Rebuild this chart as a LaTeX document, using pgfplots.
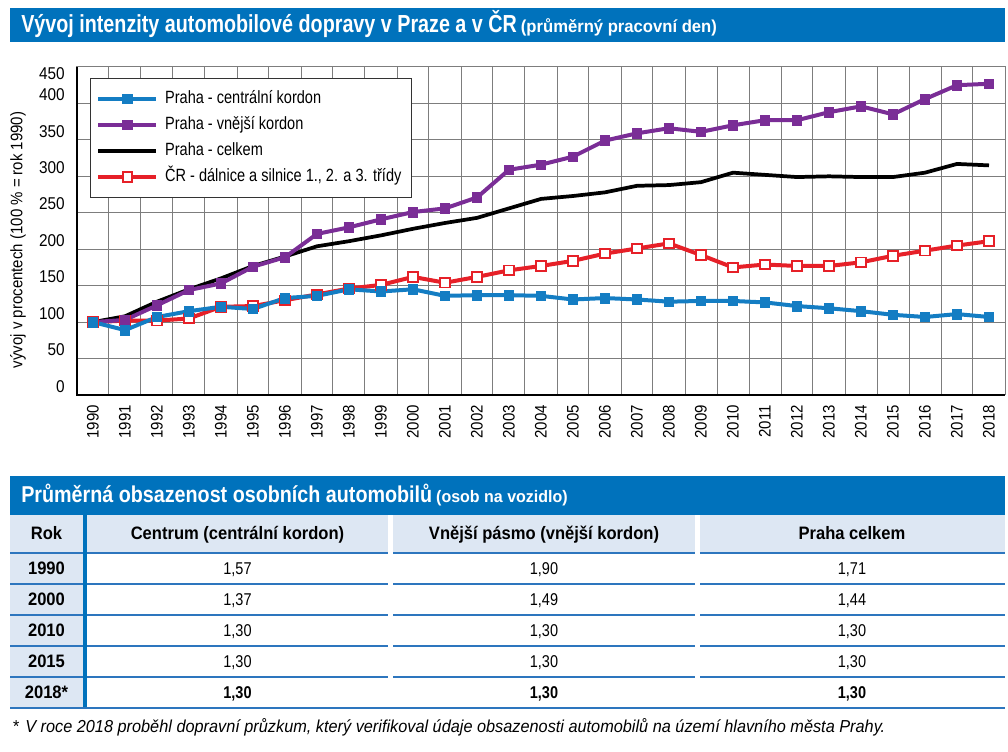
\documentclass[border=0pt]{standalone}
\usepackage{fontspec}
\usepackage{pgfplots}
\pgfplotsset{compat=1.18}
\setmainfont{Liberation Sans}
\newfontfamily\titlefont[FakeStretch=0.8]{Liberation Sans}
\newfontfamily\tabtitlefont[FakeStretch=0.86]{Liberation Sans}
\newfontfamily\subfont[FakeStretch=0.96]{Liberation Sans}
\newfontfamily\condfont[FakeStretch=0.82]{Liberation Sans}
\newfontfamily\hdrfont[FakeStretch=0.92]{Liberation Sans}
\newfontfamily\valfont[FakeStretch=0.85]{Liberation Sans}
\newfontfamily\footfont[FakeStretch=0.94]{Liberation Sans}
\newfontfamily\tickfont[FakeStretch=0.9]{Liberation Sans}
\newfontfamily\labfont[FakeStretch=0.9]{Liberation Sans}
\definecolor{barblue}{RGB}{0,114,188}
\definecolor{hdrblue}{RGB}{221,231,243}
\definecolor{lineblue}{RGB}{45,118,190}
\definecolor{serblue}{RGB}{20,125,195}
\definecolor{serpurple}{RGB}{122,45,150}
\definecolor{serred}{RGB}{230,32,40}
\definecolor{gridgray}{RGB}{125,125,125}
\begin{document}
\begin{tikzpicture}[x=0.75pt,y=0.75pt]
\path (0,0) rectangle (1008,752);
% ---------- title bar
\fill[barblue] (10,710) rectangle (1005,744);
\node[anchor=base west, inner sep=0pt, text=white] at (21,719)
  {\titlefont\bfseries\fontsize{18.5}{20}\selectfont Vývoj intenzity automobilové dopravy v Praze a v ČR\hspace{3pt}\subfont\bfseries\fontsize{13}{14}\selectfont(průměrný pracovní den)};
% ---------- chart
\begin{axis}[
  name=ax,
  at={(57.75pt,267.75pt)}, anchor=south west,
  scale only axis, width=696pt, height=246pt,
  xmin=1989.5, xmax=2018.5, ymin=0, ymax=450,
  xtick={1990,1991,...,2018},
  ytick={0,50,...,450},
  yticklabels={0,50,100,150,200,250,300,350,400,\smash{\raisebox{-16pt}{450}}},
  minor xtick={1989.5,1990.5,...,2018.5},
  xminorgrids=true, ymajorgrids=true, xmajorgrids=false,
  minor grid style={gridgray, line width=0.75pt},
  major grid style={gridgray, line width=0.75pt},
  major tick length=0pt, minor tick length=0pt,
  axis line style={gridgray, line width=0.75pt},
  x tick label style={/pgf/number format/1000 sep={}, /pgf/number format/assume math mode=true},
  xticklabel style={font=\tickfont\fontsize{12.5}{14}\selectfont, rotate=90, anchor=east, inner sep=0pt},
  xticklabel shift=7.5pt,
  yticklabel style={font=\tickfont\fontsize{12.8}{14}\selectfont, anchor=east, inner sep=0pt, yshift=6.5pt},
  yticklabel shift=9pt,
  ylabel={vývoj v procentech (100 \% = rok 1990)},
  ylabel style={font=\labfont\fontsize{12.5}{14}\selectfont, at={(axis description cs:-0.0636,0.473)}, anchor=center},
  legend style={at={(axis description cs:0.014,0.966)}, anchor=north west,
    draw=black!80, line width=0.75pt, fill=white,
    font=\condfont\fontsize{13.3}{15}\selectfont,
    inner xsep=4.5pt, inner ysep=5.5pt, row sep=0pt,
    nodes={text height=10pt, text depth=3pt, inner ysep=3.25pt, inner xsep=3pt},
    /tikz/every odd column/.append style={column sep=2pt},
    cells={anchor=west}},
  legend image code/.code={\draw[mark repeat=2,mark phase=2,#1] plot coordinates {(0pt,0pt) (21.75pt,0pt) (43.5pt,0pt)};},
  reverse legend,
]
\addplot[serred, line width=3pt, mark=square*, mark size=3.6pt, mark options={fill=white, draw=serred, line width=1.4pt, solid}] coordinates {
(1990,100) (1991,102) (1992,102) (1993,105) (1994,121) (1995,122) (1996,130) (1997,138) (1998,146) (1999,151)
(2000,162) (2001,154) (2002,162) (2003,171) (2004,177) (2005,184) (2006,194) (2007,201) (2008,208) (2009,192)
(2010,175) (2011,179) (2012,177) (2013,177) (2014,182) (2015,191) (2016,198) (2017,205) (2018,211)};
\addlegendentry{ČR - dálnice a silnice 1., 2. a 3. třídy}
\addplot[black, line width=2.8pt, no marks] coordinates {
(1990,100) (1991,108) (1992,128) (1993,145) (1994,160) (1995,177) (1996,190) (1997,204) (1998,211) (1999,219)
(2000,228) (2001,236) (2002,243) (2003,256) (2004,269) (2005,273) (2006,278) (2007,287) (2008,288) (2009,292)
(2010,305) (2011,302) (2012,299) (2013,300) (2014,299) (2015,299) (2016,305) (2017,317) (2018,315)};
\addlegendentry{Praha - celkem}
\addplot[serpurple, line width=3pt, mark=square*, mark size=3.6pt, mark options={fill=serpurple, line width=0.5pt, solid}] coordinates {
(1990,100) (1991,103) (1992,123) (1993,144) (1994,153) (1995,176) (1996,189) (1997,221) (1998,230) (1999,241)
(2000,251) (2001,256) (2002,271) (2003,309) (2004,316) (2005,327) (2006,349) (2007,359) (2008,366) (2009,361)
(2010,370) (2011,377) (2012,377) (2013,388) (2014,396) (2015,385) (2016,406) (2017,425) (2018,427)};
\addlegendentry{Praha - vnější kordon}
\addplot[serblue, line width=3pt, mark=square*, mark size=3.6pt, mark options={fill=serblue, line width=0.5pt, solid}] coordinates {
(1990,100) (1991,89) (1992,107) (1993,115) (1994,121) (1995,118) (1996,133) (1997,136) (1998,145) (1999,142)
(2000,145) (2001,136) (2002,137) (2003,137) (2004,136) (2005,131) (2006,133) (2007,131) (2008,128) (2009,129)
(2010,129) (2011,127) (2012,122) (2013,119) (2014,115) (2015,110) (2016,107) (2017,111) (2018,107)};
\addlegendentry{Praha - centrální kordon}
\end{axis}
\draw[black, line width=1.5pt] (ax.north west) -- (ax.south west) -- (ax.south east);
% ---------- table
\fill[barblue] (10,237) rectangle (1005,276);
\node[anchor=base west, inner sep=0pt, text=white] at (21,249)
  {\tabtitlefont\bfseries\fontsize{17.2}{18}\selectfont Průměrná obsazenost osobních automobilů\hspace{3pt}\subfont\bfseries\fontsize{12.5}{14}\selectfont(osob na vozidlo)};
% header background
\fill[hdrblue] (10,199) rectangle (388,237);
\fill[hdrblue] (393,199) rectangle (695,237);
\fill[hdrblue] (700,199) rectangle (1005,237);
\fill[hdrblue] (10,44) rectangle (83,199);
\fill[barblue] (83,44) rectangle (87,237);
% lines
\foreach \yy in {199,168,137,106,75} {
  \draw[lineblue, line width=1.5pt] (10,\yy) -- (83,\yy);
  \draw[lineblue, line width=1.5pt] (87,\yy) -- (388,\yy);
  \draw[lineblue, line width=1.5pt] (393,\yy) -- (695,\yy);
  \draw[lineblue, line width=1.5pt] (700,\yy) -- (1005,\yy);
}
\draw[lineblue, line width=1.5pt] (10,44) -- (1005,44);
% header text
\begin{scope}[every node/.style={anchor=base, inner sep=0pt, font=\hdrfont\bfseries\fontsize{13.5}{15}\selectfont}]
\node at (46.5,212) {Rok};
\node at (237.5,212) {Centrum (centrální kordon)};
\node at (544,212) {Vnější pásmo (vnější kordon)};
\node at (852,212) {Praha celkem};
\node at (46.5,177.5) {1990};
\node at (46.5,146.5) {2000};
\node at (46.5,115.5) {2010};
\node at (46.5,84.5) {2015};
\node at (46.5,53.5) {2018*};
\end{scope}
\begin{scope}[every node/.style={anchor=base, inner sep=0pt, font=\valfont\fontsize{12.8}{15}\selectfont}]
\node at (237.5,177.5) {1,57}; \node at (544,177.5) {1,90}; \node at (852,177.5) {1,71};
\node at (237.5,146.5) {1,37}; \node at (544,146.5) {1,49}; \node at (852,146.5) {1,44};
\node at (237.5,115.5) {1,30}; \node at (544,115.5) {1,30}; \node at (852,115.5) {1,30};
\node at (237.5,84.5) {1,30}; \node at (544,84.5) {1,30}; \node at (852,84.5) {1,30};
\end{scope}
\begin{scope}[every node/.style={anchor=base, inner sep=0pt, font=\valfont\bfseries\fontsize{12.8}{15}\selectfont}]
\node at (237.5,53.5) {1,30}; \node at (544,53.5) {1,30}; \node at (852,53.5) {1,30};
\end{scope}
% footnote
\node[anchor=base west, inner sep=0pt, font=\footfont\itshape\fontsize{13}{15}\selectfont] at (12,19)
  {*\hspace{5pt}V roce 2018 proběhl dopravní průzkum, který verifikoval údaje obsazenosti automobilů na území hlavního města Prahy.};
\end{tikzpicture}
\end{document}
